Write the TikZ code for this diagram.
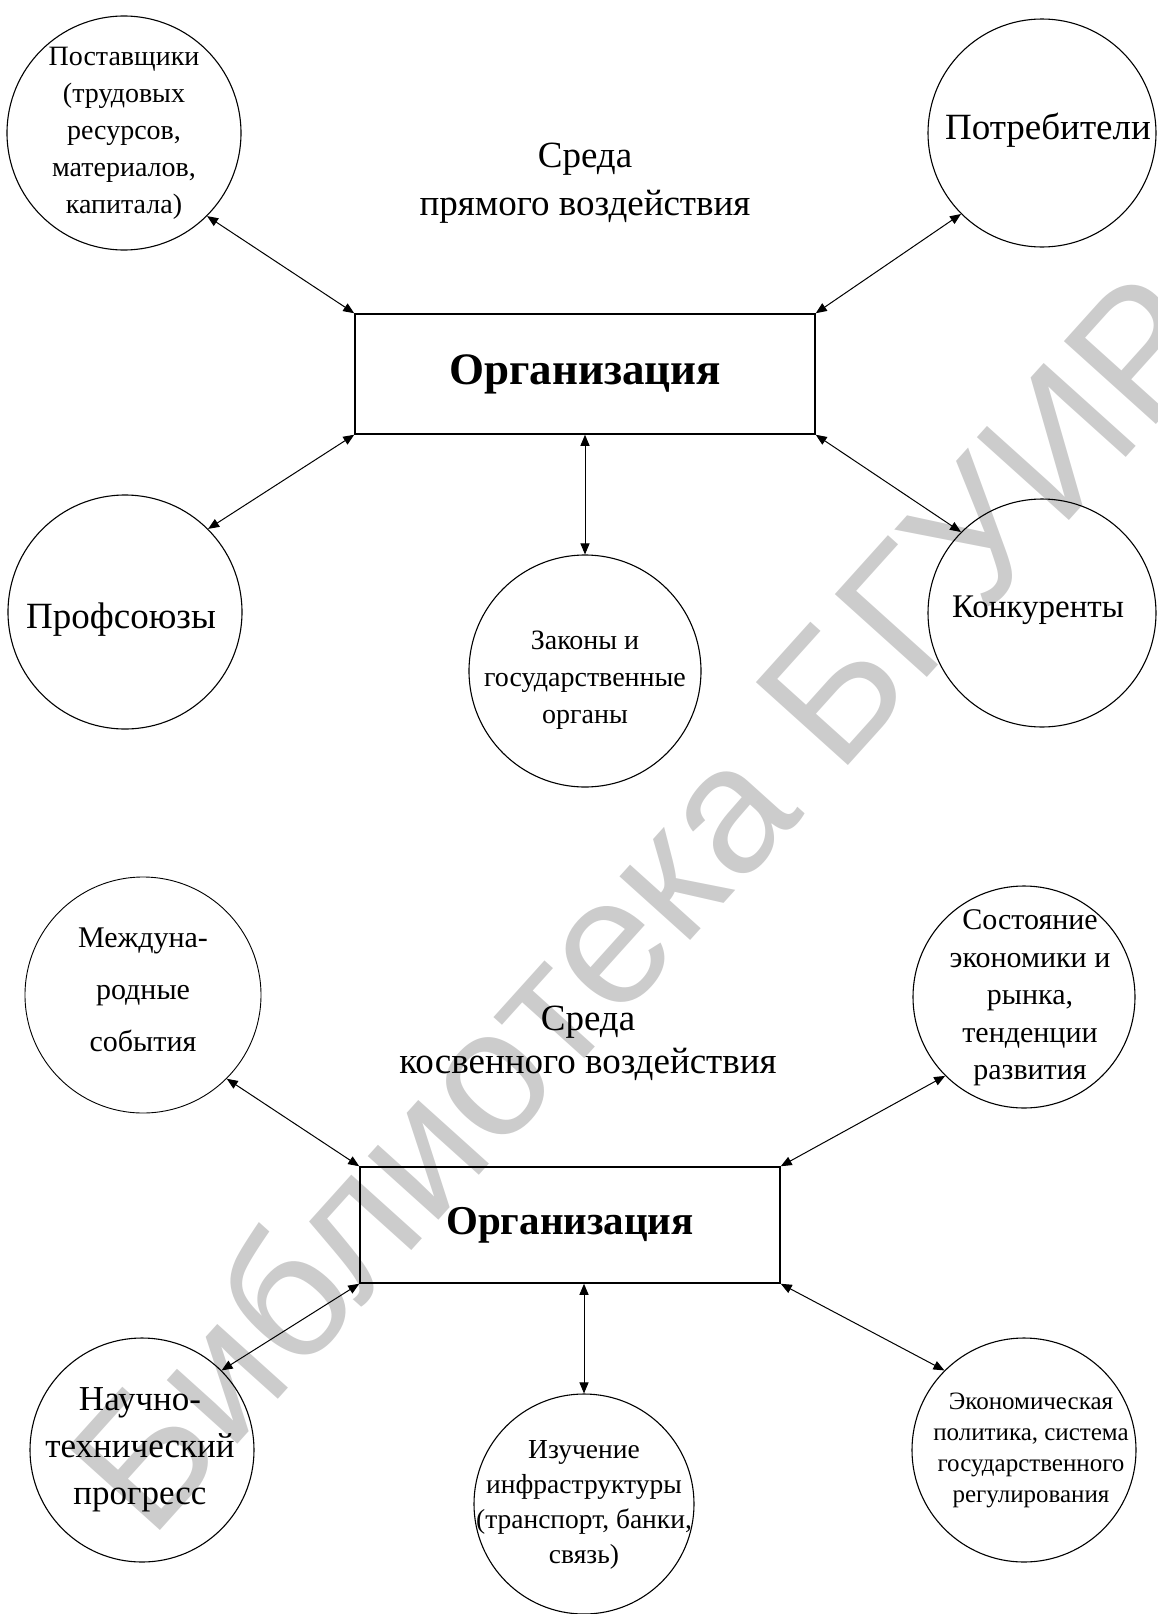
\documentclass[tikz,border=0pt]{standalone}
\usepackage{fontspec}
\setmainfont{Liberation Serif}
\newfontfamily\wmfont{Liberation Sans}
\usetikzlibrary{arrows.meta}
\tikzset{>={Triangle[length=11pt,width=9pt]}}

\begin{document}
\begin{tikzpicture}[x=1pt,y=-1pt,
  env/.style={draw,circle,line width=1.1pt,inner sep=0pt},
  txt/.style={align=center,inner sep=0pt},
  org/.style={draw,rectangle,line width=1.5pt,inner sep=0pt,font=\bfseries},
  link/.style={<->,line width=1pt}]
\useasboundingbox (0,0) rectangle (1157,1614);
% watermark
\node[rotate=48,text=black!20,font=\wmfont\fontsize{180}{180}\selectfont] (wm) at (640,900) {Библиотека БГУИР};

% direct environment
\node[org,minimum width=460pt,minimum height=120pt,font=\bfseries\fontsize{45}{50}\selectfont] (org1) at (585,374) {Организация};
\node[txt,font=\fontsize{37}{48}\selectfont] (env1) at (585,183) {Среда\\прямого воздействия};
\node[env,minimum size=234pt] (sup) at (124,133) {};
\node[txt,font=\fontsize{28}{37}\selectfont] (sup-t) at (sup) {Поставщики\\(трудовых\\ресурсов,\\материалов,\\капитала)};
\node[env,minimum size=228pt] (cons) at (1042,133) {};
\node[txt,font=\fontsize{37}{40}\selectfont] (cons-t) at (1048,130) {Потребители};
\node[env,minimum size=234pt] (prof) at (125,612) {};
\node[txt,font=\fontsize{37}{40}\selectfont] (prof-t) at (121,620) {Профсоюзы};
\node[env,minimum size=232pt] (laws) at (585,671) {};
\node[txt,font=\fontsize{28}{37}\selectfont] (laws-t) at (585,680) {Законы и\\государственные\\органы};
\node[env,minimum size=228pt] (comp) at (1042,613) {};
\node[txt,font=\fontsize{33}{40}\selectfont] (comp-t) at (1038,610) {Конкуренты};

\draw[link] (org1.north west) -- (sup.-45);
\draw[link] (org1.north east) -- (cons.-135);
\draw[link] (org1.south west) -- (prof.45);
\draw[link] (org1.south east) -- (comp.135);
\draw[link] (org1.south) -- (laws.north);

% indirect environment
\node[org,minimum width=420pt,minimum height=116pt,font=\bfseries\fontsize{41}{46}\selectfont] (org2) at (570,1225) {Организация};
\node[txt,font=\fontsize{37}{43}\selectfont] (env2) at (588,1043) {Среда\\косвенного воздействия};
\node[env,minimum size=236pt,line width=0.9pt] (intl) at (143,995) {};
\node[txt,font=\fontsize{30}{52}\selectfont] (intl-t) at (143,990) {Междуна-\\родные\\события};
\node[env,minimum size=222pt] (state) at (1024,997) {};
\node[txt,font=\fontsize{30}{37.5}\selectfont] (state-t) at (1030,998) {Состояние\\экономики и\\рынка,\\тенденции\\развития};
\node[env,minimum size=224pt] (sci) at (142,1450) {};
\node[txt,font=\fontsize{35}{47}\selectfont] (sci-t) at (140,1450) {Научно-\\технический\\прогресс};
\node[env,minimum size=220pt] (infra) at (584,1504) {};
\node[txt,font=\fontsize{27.5}{35}\selectfont] (infra-t) at (584,1505) {Изучение\\инфраструктуры\\(транспорт, банки,\\связь)};
\node[env,minimum size=224pt] (pol) at (1024,1450) {};
\node[txt,font=\fontsize{25}{31}\selectfont] (pol-t) at (1031,1450) {Экономическая\\политика, система\\государственного\\регулирования};

\draw[link] (org2.north west) -- (intl.-45);
\draw[link] (org2.north east) -- (state.-135);
\draw[link] (org2.south west) -- (sci.45);
\draw[link] (org2.south east) -- (pol.135);
\draw[link] (infra.north |- org2.south) -- (infra.north);
\end{tikzpicture}
\end{document}
